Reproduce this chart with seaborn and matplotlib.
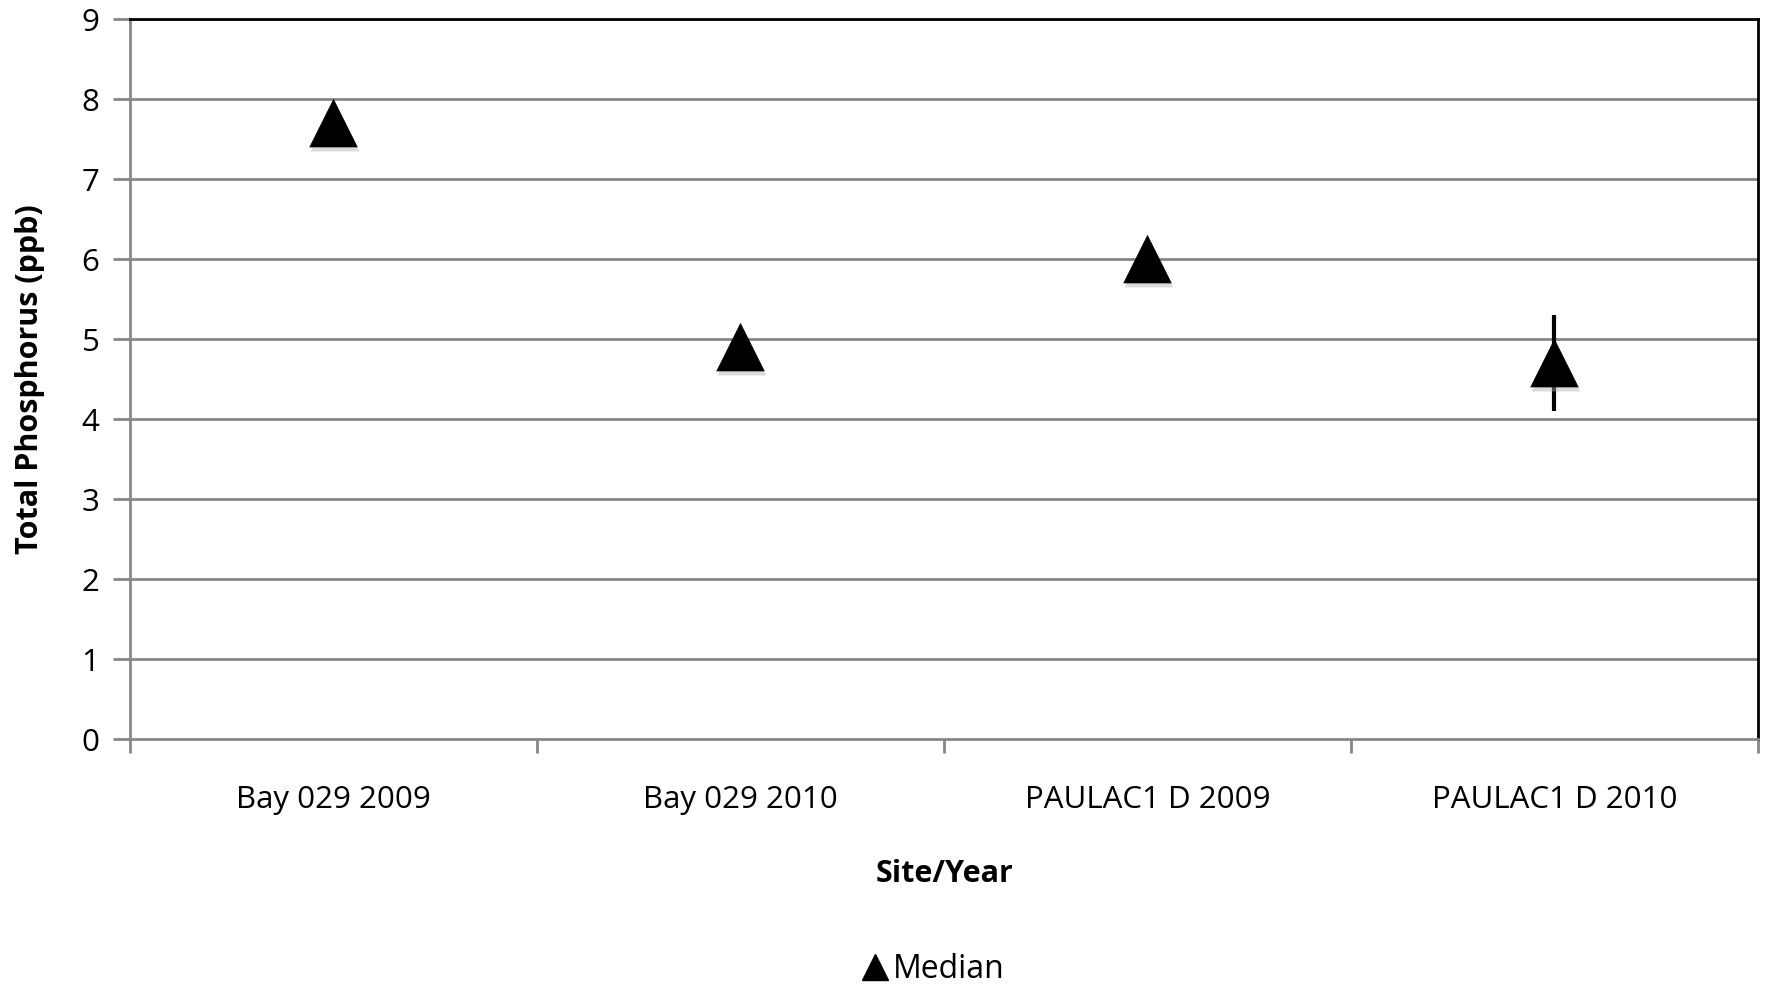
import pandas as pd
import seaborn as sns
import matplotlib.pyplot as plt
import matplotlib.patheffects as pe

sites = ["Bay 029 2009", "Bay 029 2010", "PAULAC1 D 2009", "PAULAC1 D 2010"]
median = [7.7, 4.9, 6.0, 4.7]
err_low = [7.7, 4.9, 6.0, 4.1]
err_high = [7.7, 4.9, 6.0, 5.3]

df = pd.DataFrame({"Site/Year": sites, "Median": median,
                   "low": err_low, "high": err_high})

sns.set_style("white")
plt.rcParams["font.family"] = ["Open Sans", "DejaVu Sans"]
plt.rcParams["text.color"] = "black"
plt.rcParams["axes.labelcolor"] = "black"
plt.rcParams["xtick.labelcolor"] = "black"
plt.rcParams["ytick.labelcolor"] = "black"

fig, ax = plt.subplots(figsize=(17.67, 9.85), dpi=100)
fig.subplots_adjust(left=0.0736, right=0.9949, top=0.9807, bottom=0.2497)

grid_col = "#868686"
for v in range(1, 10):
    ax.axhline(v, color=grid_col, lw=2, zorder=0)

# error bars (only last point has visible spread)
ax.vlines(df.index, df["low"], df["high"], color="black", lw=3, zorder=2)

shadow = [pe.SimplePatchShadow(offset=(1, -3), shadow_rgbFace="#b0b0b0", alpha=0.45), pe.Normal()]
sns.scatterplot(data=df, x="Site/Year", y="Median", marker="^", s=35**2,
                color="black", edgecolor="black", linewidth=0, ax=ax, zorder=3,
                legend=False)
ax.collections[-1].set_path_effects(shadow)

ax.set_xlim(-0.5, 3.5)
ax.set_ylim(0, 9)
ax.set_yticks(range(0, 10))
ax.set_xticks([-0.5, 0.5, 1.5, 2.5, 3.5], minor=False)
ax.set_xticklabels([])
ax.set_xticks(range(4), minor=True)
ax.set_xticklabels(sites, minor=True)
ax.tick_params(axis="x", which="major", length=10, width=2, color=grid_col, direction="out", bottom=True)
ax.tick_params(axis="x", which="minor", length=0, pad=33, labelsize=22.5)
ax.tick_params(axis="y", length=12, width=2, color=grid_col, direction="out", left=True, labelsize=22.5, pad=10)

for s in ["left", "bottom"]:
    ax.spines[s].set_color(grid_col)
    ax.spines[s].set_linewidth(2)
for s in ["top", "right"]:
    ax.spines[s].set_color("black")
    ax.spines[s].set_linewidth(2)

ax.set_xlabel("Site/Year", fontsize=22, fontweight="bold", labelpad=32)
ax.set_ylabel("Total Phosphorus (ppb)", fontsize=22, fontweight="bold", labelpad=26)

h = plt.Line2D([], [], marker="^", color="black", ls="none", markersize=19)
fig.legend([h], ["Median"], loc="center", bbox_to_anchor=(0.527, 0.016),
           frameon=False, fontsize=23, handletextpad=0.0, handlelength=1.1)

fig.savefig("out.png", dpi=100)
